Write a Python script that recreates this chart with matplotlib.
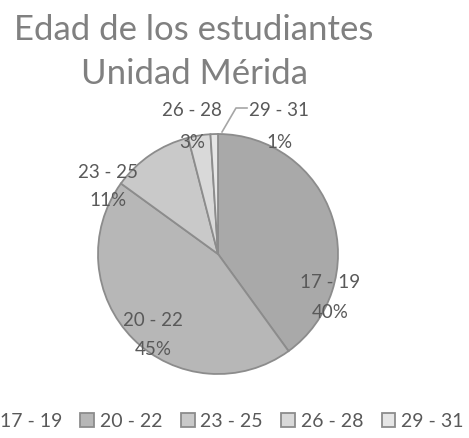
import matplotlib
matplotlib.use("Agg")
import matplotlib.pyplot as plt

# datos
rangos = ["17 - 19", "20 - 22", "23 - 25", "26 - 28", "29 - 31"]
porcentajes = [40, 45, 11, 3, 1]
colores = ["#a9a9a9", "#b7b7b7", "#c9c9c9", "#d9d9d9", "#e6e6e6"]

plt.rcParams['font.family'] = ['Lato', 'DejaVu Sans']

fig = plt.figure(figsize=(4.69, 4.39), dpi=100)
ax = fig.add_axes([0, 0, 1, 1])
ax.set_xlim(0, 469)
ax.set_ylim(0, 439)
ax.set_aspect('equal')
ax.axis('off')

cx, cy, r = 218, 439 - 255, 120
wedges, _ = ax.pie(porcentajes, colors=colores, startangle=90, counterclock=False,
                   center=(cx, cy), radius=r,
                   wedgeprops=dict(edgecolor="#8c8c8c", linewidth=1.3))
ax.set_xlim(0, 469)
ax.set_ylim(0, 439)

# posiciones de etiquetas (pixeles, desde arriba)
pos_etq = [(330, 283, 313), (153, 321, 350), (108, 172, 200), (192, 110, 142), (279, 110, 142)]
gris = "#595959"
for nombre, p, (x, y1, y2) in zip(rangos, porcentajes, pos_etq):
    ax.text(x, 439 - y1, nombre, ha='center', va='center', fontsize=13.5, color=gris)
    ax.text(x, 439 - y2, f"{p}%", ha='center', va='center', fontsize=13.5, color=gris)

# linea guia 29-31
ax.plot([247, 236, 222], [439 - 109, 439 - 109, 439 - 133], color="#a6a6a6", lw=1.2)

ax.text(194, 439 - 30, "Edad de los estudiantes", ha='center', va='center', fontsize=25, color="#808080")
ax.text(194, 439 - 74, "Unidad Mérida", ha='center', va='center', fontsize=25, color="#808080")

leg = fig.legend(wedges, rangos, loc='center', bbox_to_anchor=(222 / 469, 1 - 422 / 439),
                 ncol=5, frameon=False, fontsize=14, handlelength=0.7, handleheight=0.7,
                 handletextpad=0.3, columnspacing=0.95)
for t in leg.get_texts():
    t.set_color(gris)

fig.savefig("out.png", dpi=100)
